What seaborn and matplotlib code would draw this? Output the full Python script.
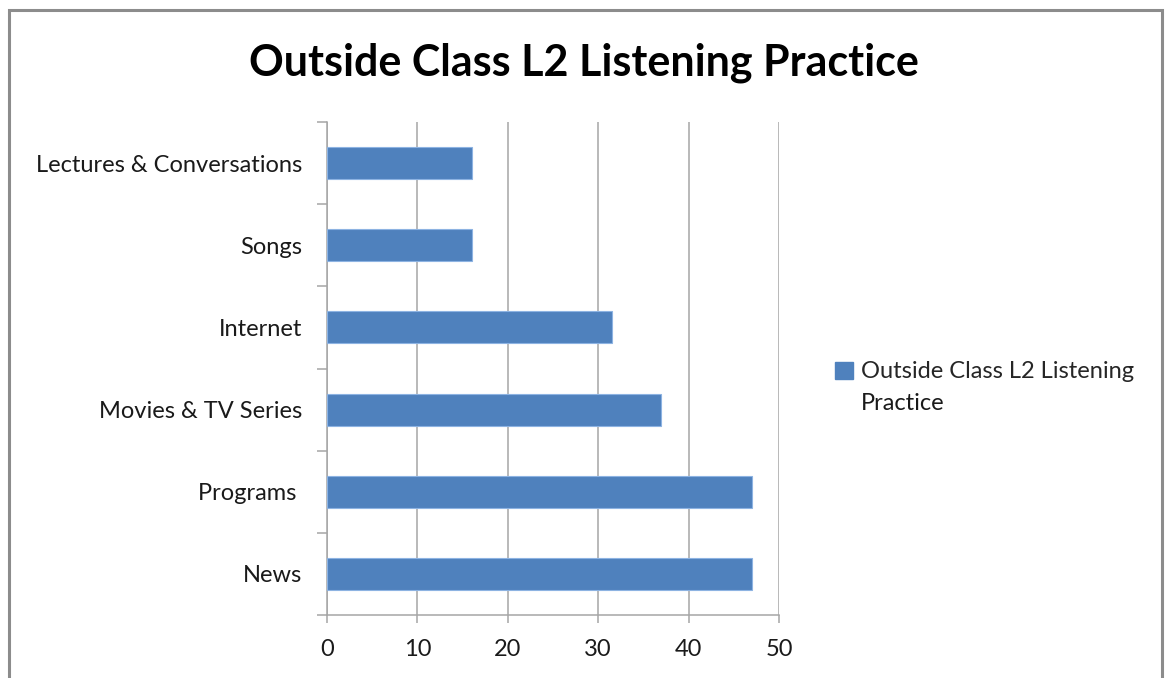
import matplotlib
matplotlib.use("Agg")
import matplotlib.pyplot as plt
from matplotlib.patches import Patch, Rectangle
import seaborn as sns
import pandas as pd

# chart data
categories = ["Lectures & Conversations", "Songs", "Internet",
              "Movies & TV Series", "Programs ", "News"]
values = [16, 16, 31.5, 37, 47, 47]
xticks = [0, 10, 20, 30, 40, 50]
series_name = "Outside Class L2 Listening Practice"

df = pd.DataFrame({"Source": categories, "Count": values})

sns.set_style("white")
plt.rcParams["font.family"] = ["Lato", "DejaVu Sans"]

fig = plt.figure(figsize=(11.68, 6.78), dpi=100)
ax = fig.add_axes([327 / 1168, 63 / 678, 452 / 1168, 493 / 678])

bar_color = "#4F81BD"
sns.barplot(data=df, x="Count", y="Source", orient="h", order=categories,
            color=bar_color, saturation=1, width=0.39,
            edgecolor="#8DB3E2", linewidth=0.8, ax=ax, zorder=3)

grid_c = "#A6A6A6"
lab_size = 17
ax.set_xlim(0, 50)
ax.set_ylim(5.5, -0.5)
ax.set_xticks(xticks)
ax.set_xticklabels([str(t) for t in xticks])
ax.xaxis.grid(True, color=grid_c, linewidth=1.1, zorder=0)
ax.yaxis.grid(False)
ax.set_xlabel("")
ax.set_ylabel("")

for s in ["top", "right"]:
    ax.spines[s].set_visible(False)
for s in ["left", "bottom"]:
    ax.spines[s].set_color(grid_c)
    ax.spines[s].set_linewidth(1.1)

# excel style: y ticks sit between categories
ax.set_yticks([i - 0.5 for i in range(len(categories) + 1)], minor=True)
ax.tick_params(axis="y", which="major", length=0, pad=18, labelsize=lab_size, labelcolor="#1a1a1a")
ax.tick_params(axis="y", which="minor", length=7, width=1.1, color=grid_c, direction="out", left=True)
ax.tick_params(axis="x", which="major", length=6, width=1.1, color=grid_c, direction="out",
               bottom=True, pad=11, labelsize=lab_size, labelcolor="#1a1a1a")

fig.text(0.5, 1 - 63 / 678, series_name, ha="center", va="center",
         fontsize=31, fontweight="bold", color="black")

# legend: handle sits on the first line, the rest of the name wraps below
handle = Patch(facecolor=bar_color, edgecolor=bar_color)
leg = ax.legend(handles=[handle], labels=["Outside Class L2 Listening"],
                loc="center left", bbox_to_anchor=(835 / 1168, 1 - 372 / 678),
                bbox_transform=fig.transFigure, frameon=False, fontsize=lab_size,
                handlelength=0.75, handleheight=0.75, handletextpad=0.35,
                borderaxespad=0, borderpad=0)
fig.canvas.draw()
bb = leg.get_texts()[0].get_window_extent()
fig.text(bb.x0 / 1168, 1 - 403 / 678, "Practice", ha="left", va="center",
         fontsize=lab_size, color="#1a1a1a")

# grey frame around the chart area (bottom edge is cut off in the reference)
fig.patches.append(Rectangle((9 / 1168, -0.05), 1153 / 1168, 1.05 - 10 / 678,
                             transform=fig.transFigure, fill=False,
                             edgecolor="#8C8C8C", linewidth=2.2))

fig.savefig("out.png", dpi=100)
